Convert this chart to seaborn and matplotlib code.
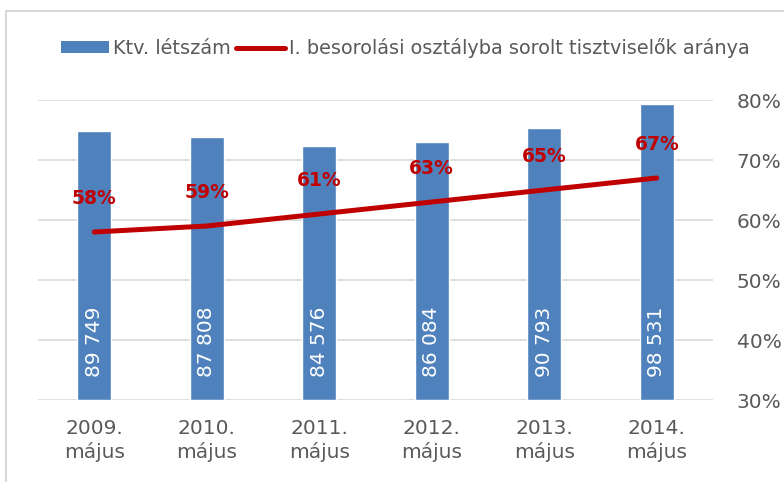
import matplotlib
matplotlib.use("Agg")
import matplotlib.pyplot as plt
from matplotlib.patches import Patch
from matplotlib.lines import Line2D
import seaborn as sns
import pandas as pd

# Data
categories = ["2009.\nmájus", "2010.\nmájus", "2011.\nmájus", "2012.\nmájus", "2013.\nmájus", "2014.\nmájus"]
headcount = [89749, 87808, 84576, 86084, 90793, 98531]
share_pct = [58, 59, 61, 63, 65, 67]
pct_ticks = [30, 40, 50, 60, 70, 80]

bar_name = "Ktv. létszám"
line_name = "I. besorolási osztályba sorolt tisztviselők aránya"

BLUE = "#4F81BD"
RED = "#C00000"
GREY_TXT = "#595959"
GRID = "#D9D9D9"

sns.set_theme(style="white")
plt.rcParams["font.family"] = ["DejaVu Sans"]

df = pd.DataFrame({"cat": categories, "count": headcount, "pct": share_pct})

fig = plt.figure(figsize=(7.84, 4.82), dpi=100)
ax = fig.add_axes([38 / 784, 1 - 400 / 482, (713 - 38) / 784, 300 / 482])

sns.barplot(data=df, x="cat", y="count", color=BLUE, width=0.3, saturation=1,
            ax=ax, zorder=2)
ax.set_ylim(0, 100000)
ax.set_yticks(range(0, 100001, 20000))
ax.yaxis.grid(True, color=GRID, linewidth=1.2)
ax.set_axisbelow(True)
ax.set_xlabel("")
ax.set_ylabel("")
ax.set_xlim(-0.5, len(categories) - 0.5)
for s in ax.spines.values():
    s.set_visible(False)

# Value labels inside the base of each bar
for i, v in enumerate(headcount):
    txt = f"{v:,}".replace(",", " ")
    ax.annotate(txt, xy=(i, 0), xytext=(0, 16.5), textcoords="offset points",
                rotation=90, ha="center", va="bottom", color="white", fontsize=14.5)

# Percentage line on the secondary axis
ax2 = ax.twinx()
sns.lineplot(data=df, x="cat", y="pct", color=RED, linewidth=3.6, ax=ax2,
             solid_capstyle="round", sort=False)
ax2.set_ylim(pct_ticks[0], pct_ticks[-1])
ax2.set_yticks(pct_ticks)
ax2.set_yticklabels([f"{t}%" for t in pct_ticks])
ax2.set_ylabel("")
ax2.set_xlabel("")
for s in ax2.spines.values():
    s.set_visible(False)

for i, p in enumerate(share_pct):
    ax2.annotate(f"{p}%", xy=(i, p), xytext=(0, 24), textcoords="offset points",
                 ha="center", va="center", color=RED, fontsize=13.5, fontweight="bold")

ax.tick_params(axis="y", left=False, right=False, labelleft=False, labelright=False)
ax.tick_params(axis="x", length=0, pad=14, labelsize=14.5, labelcolor=GREY_TXT)
for lbl in ax.get_xticklabels():
    lbl.set_linespacing(1.25)
ax2.tick_params(axis="y", left=False, right=False, length=0, pad=17,
                labelsize=14.5, labelcolor=GREY_TXT)

# Legend
handles = [Patch(facecolor=BLUE, edgecolor="none"),
           Line2D([0], [0], color=RED, linewidth=3.6, solid_capstyle="round")]
fig.legend(handles, [bar_name, line_name], loc="center", bbox_to_anchor=(405 / 784, 1 - 48 / 482),
           ncol=2, frameon=False, fontsize=13.9, handlelength=2.5, handleheight=0.6,
           handletextpad=0.2, columnspacing=0.3, labelcolor=GREY_TXT)

# Chart frame
fig.add_artist(Line2D([6 / 784, 1], [1 - 11 / 482, 1 - 11 / 482], color=GRID, linewidth=1.5,
                      transform=fig.transFigure))
fig.add_artist(Line2D([6 / 784, 6 / 784], [0, 1 - 11 / 482], color=GRID, linewidth=1.5,
                      transform=fig.transFigure))

fig.savefig("out.png", dpi=100)
